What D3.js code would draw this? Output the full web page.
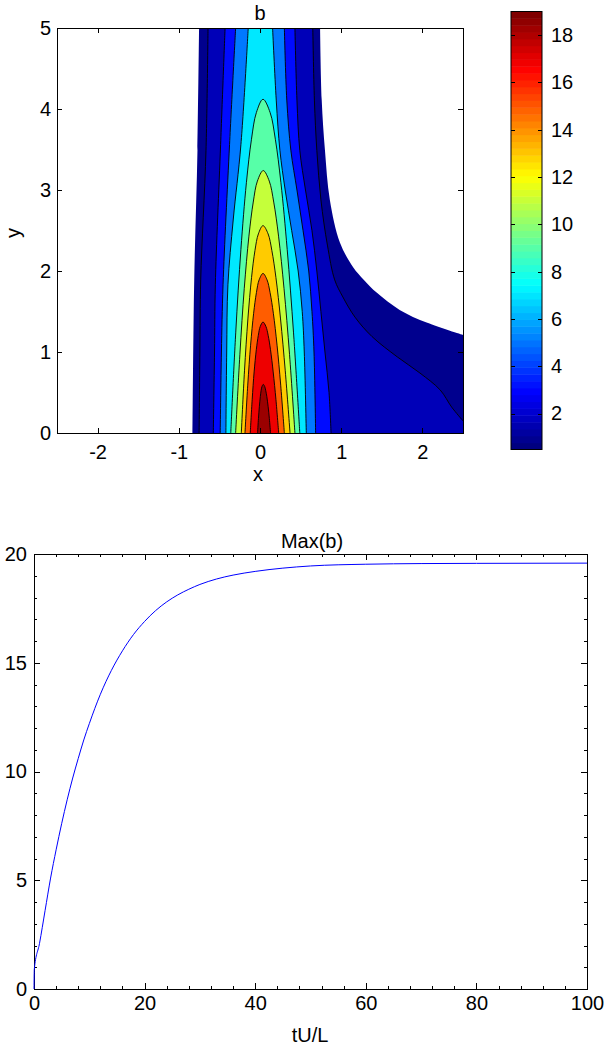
<!DOCTYPE html>
<meta charset="utf-8">
<style>
  body { margin: 0; background: #fff; }
  text { font-family: "Liberation Sans", Arial, sans-serif; font-size: 20px; fill: #000; }
  .ax path, .ax line { stroke: #000; stroke-width: 1; shape-rendering: crispEdges; }
</style>
<body>
<script src="https://cdn.jsdelivr.net/npm/d3@7"></script>
<script>
// contour levels of b
var levels = [1, 2, 4, 6, 8, 10, 12, 14, 16, 18];
var cbarMin = 0.48, cbarMax = 19;
var cbarTicks = [2, 4, 6, 8, 10, 12, 14, 16, 18];

// edge of the data region, [x, y]
var edgeLeft = [[-0.83, 0], [-0.81, 1.89], [-0.77, 3.49], [-0.75, 5]];
var edgeRight = [[0.74, 5], [0.76, 4.11], [0.80, 3.49], [0.86, 2.88], [0.985, 2.35], [1.145, 2.05],
  [1.28, 1.89], [1.44, 1.73], [1.72, 1.52], [2.06, 1.36], [2.5, 1.21]];

// open contours (levels 1-4): left part bottom->top, right part top->bottom
var open1L = [[-0.75, 0], [-0.74, 1.0], [-0.73, 1.89], [-0.665, 3.49], [-0.64, 5]];
var open1R = [[0.65, 5], [0.67, 4.11], [0.70, 3.49], [0.75, 2.88], [0.83, 2.32], [0.92, 1.89], [1.02, 1.68],
  [1.17, 1.43], [1.38, 1.19], [1.69, 0.94], [1.97, 0.74], [2.22, 0.53], [2.36, 0.32], [2.5, 0.15]];
var open2L = [[-0.575, 0], [-0.56, 1.0], [-0.55, 1.83], [-0.485, 3.56], [-0.43, 5]];
var open2R = [[0.43, 5], [0.455, 4.11], [0.49, 3.49], [0.56, 3.0], [0.64, 2.5], [0.70, 2.0], [0.75, 1.5],
  [0.80, 1.0], [0.85, 0.5], [0.875, 0]];
var open3L = [[-0.49, 0], [-0.475, 1.0], [-0.455, 1.83], [-0.375, 3.56], [-0.30, 5]];
var open3R = [[0.30, 5], [0.33, 4.11], [0.38, 3.49], [0.455, 3.0], [0.53, 2.5], [0.60, 2.0], [0.64, 1.5],
  [0.665, 1.0], [0.685, 0]];
var open4L = [[-0.42, 0], [-0.41, 1.0], [-0.395, 1.83], [-0.33, 2.63], [-0.235, 3.56], [-0.145, 5]];
var open4R = [[0.155, 5], [0.2, 4.11], [0.245, 3.49], [0.31, 3.0], [0.39, 2.5], [0.47, 2.0], [0.52, 1.5],
  [0.545, 1.0], [0.57, 0]];

// closed caps (levels 5-10), bottom-left -> apex -> bottom-right
var cap5 = [[-0.36, 0], [-0.299, 1.236], [-0.235, 2.266], [-0.1675, 3.09], [-0.105, 3.626], [-0.045, 3.955], [0.037, 4.12],
  [0.125, 3.955], [0.189, 3.626], [0.2575, 3.09], [0.335, 2.266], [0.413, 1.236], [0.49, 0]];
var cap6 = [[-0.30, 0], [-0.2475, 0.972], [-0.194, 1.782], [-0.1365, 2.43], [-0.083, 2.851], [-0.032, 3.11], [0.04, 3.24],
  [0.114, 3.11], [0.169, 2.851], [0.2285, 2.43], [0.296, 1.782], [0.3635, 0.972], [0.43, 0]];
var cap7 = [[-0.23, 0], [-0.191, 0.768], [-0.149, 1.408], [-0.104, 1.92], [-0.062, 2.253], [-0.02, 2.458], [0.037, 2.56],
  [0.10, 2.458], [0.146, 2.253], [0.196, 1.92], [0.253, 1.408], [0.311, 0.768], [0.37, 0]];
var cap8 = [[-0.185, 0], [-0.151, 0.591], [-0.116, 1.084], [-0.0785, 1.478], [-0.044, 1.734], [-0.0106, 1.891], [0.037, 1.97],
  [0.0866, 1.891], [0.124, 1.734], [0.1645, 1.478], [0.21, 1.084], [0.255, 0.591], [0.30, 0]];
var cap9 = [[-0.12, 0], [-0.0965, 0.411], [-0.0724, 0.754], [-0.0455, 1.028], [-0.0206, 1.206], [0.003, 1.315], [0.037, 1.37],
  [0.073, 1.315], [0.1006, 1.206], [0.1295, 1.028], [0.1624, 0.754], [0.1965, 0.411], [0.23, 0]];
var cap10 = [[-0.03, 0], [-0.019, 0.18], [-0.0077, 0.33], [0.004, 0.45], [0.0143, 0.528], [0.025, 0.576], [0.04, 0.6],
  [0.057, 0.576], [0.0697, 0.528], [0.084, 0.45], [0.0997, 0.33], [0.115, 0.18], [0.13, 0]];

// Max(b) against tU/L
var tUL = [0, 0.05, 1, 2, 3, 4, 5, 6, 7, 8, 9, 10, 12, 14, 16, 18, 20, 22, 24, 26, 28, 30, 33, 36, 40, 45, 50, 60, 70, 80, 100];
var maxB = [0, 0.9, 2.1, 3.6, 5.1, 6.4, 7.6, 8.7, 9.7, 10.6, 11.45, 12.2, 13.55, 14.65, 15.55, 16.3, 16.9, 17.4, 17.8,
  18.12, 18.38, 18.6, 18.85, 19.03, 19.2, 19.35, 19.45, 19.53, 19.56, 19.57, 19.58];

// jet colormap
var jetStops = [0, 0.125, 0.375, 0.625, 0.875, 1];
var jetColors = ["#000080", "#0000ff", "#00ffff", "#ffff00", "#ff0000", "#800000"];
var jet = d3.scaleLinear().domain(jetStops).range(jetColors).interpolate(d3.interpolateRgb);
var cnorm = d3.scaleLinear().domain([cbarMin, cbarMax]).range([0, 1]);
var intLabel = function (d) { return String(d); };

var W = 605, H = 1049;
var svg = d3.select("body").append("svg").attr("width", W).attr("height", H);

// ---------- top: contour plot ----------
var x = d3.scaleLinear().domain([-2.5, 2.5]).range([57, 463]);
var y = d3.scaleLinear().domain([0, 5]).range([433, 28]);

svg.append("clipPath").attr("id", "clipTop").append("rect")
  .attr("x", 57).attr("y", 28).attr("width", 406).attr("height", 405);

// each band is coloured by the middle of its value interval
var bounds = [cbarMin].concat(levels, [cbarMax]);
var bandColour = function (k) { return jet(cnorm((bounds[k] + bounds[k + 1]) / 2)); };

var line = d3.line().x(function (d) { return x(d[0]); }).y(function (d) { return y(d[1]); })
  .curve(d3.curveCatmullRom);

function join(a, b) {
  return line(a) + line(b).replace(/^M/, "L");
}
function closeBottom(pts) {
  var last = pts[pts.length - 1];
  return last[1] > 0 ? "L" + x(last[0]) + "," + y(0) : "";
}

var gc = svg.append("g").attr("clip-path", "url(#clipTop)");

gc.append("path")
  .attr("d", join(edgeLeft, edgeRight) + closeBottom(edgeRight) + "Z")
  .attr("fill", bandColour(0));

var openPairs = [[open1L, open1R], [open2L, open2R], [open3L, open3R], [open4L, open4R]];
openPairs.forEach(function (p, i) {
  gc.append("path")
    .attr("d", join(p[0], p[1]) + closeBottom(p[1]) + "Z")
    .attr("fill", bandColour(i + 1));
});
var caps = [cap5, cap6, cap7, cap8, cap9, cap10];
caps.forEach(function (c, i) {
  gc.append("path").attr("d", line(c) + "Z").attr("fill", bandColour(i + 5));
});

// contour lines
openPairs.forEach(function (p) {
  p.forEach(function (part) {
    gc.append("path").attr("d", line(part)).attr("fill", "none")
      .attr("stroke", "#000").attr("stroke-width", 0.9);
  });
});
caps.forEach(function (c) {
  gc.append("path").attr("d", line(c)).attr("fill", "none")
    .attr("stroke", "#000").attr("stroke-width", 0.9);
});

// axes
var xt = [-2, -1, 0, 1, 2], yt = [0, 1, 2, 3, 4, 5];
svg.append("g").attr("class", "ax").attr("transform", "translate(0,433)")
  .call(d3.axisBottom(x).tickValues(xt).tickSizeInner(-5).tickSizeOuter(0).tickPadding(12).tickFormat(intLabel));
svg.append("g").attr("class", "ax").attr("transform", "translate(0,28)")
  .call(d3.axisTop(x).tickValues(xt).tickSizeInner(-5).tickSizeOuter(0).tickFormat(""));
svg.append("g").attr("class", "ax").attr("transform", "translate(57,0)")
  .call(d3.axisLeft(y).tickValues(yt).tickSizeInner(-5).tickSizeOuter(0).tickPadding(6).tickFormat(intLabel));
svg.append("g").attr("class", "ax").attr("transform", "translate(463,0)")
  .call(d3.axisRight(y).tickValues(yt).tickSizeInner(-5).tickSizeOuter(0).tickFormat(""));

svg.append("text").attr("x", 260).attr("y", 20).attr("text-anchor", "middle").text("b");
svg.append("text").attr("x", 258).attr("y", 481).attr("text-anchor", "middle").text("x");
svg.append("text").attr("transform", "translate(20,233) rotate(-90)").attr("text-anchor", "middle").text("y");

// colorbar
var cy = d3.scaleLinear().domain([cbarMin, cbarMax]).range([449.5, 11.5]);
var nCol = 64, step = (cbarMax - cbarMin) / nCol;
svg.append("g").selectAll("rect").data(d3.range(nCol)).enter().append("rect")
  .attr("x", 511).attr("width", 31)
  .attr("y", function (i) { return cy(cbarMin + (i + 1) * step); })
  .attr("height", function (i) { return cy(cbarMin + i * step) - cy(cbarMin + (i + 1) * step) + 0.5; })
  .attr("fill", function (i) { return jet(i / (nCol - 1)); });
svg.append("rect").attr("x", 511).attr("y", 11.5).attr("width", 31).attr("height", 438)
  .attr("fill", "none").attr("stroke", "#000");
svg.append("g").attr("class", "ax").attr("transform", "translate(542,0)")
  .call(d3.axisRight(cy).tickValues(cbarTicks).tickSizeInner(-4).tickSizeOuter(0).tickPadding(9).tickFormat(intLabel))
  .select(".domain").remove();
svg.append("g").attr("class", "ax").attr("transform", "translate(511,0)")
  .call(d3.axisLeft(cy).tickValues(cbarTicks).tickSizeInner(-4).tickSizeOuter(0).tickFormat(""))
  .select(".domain").remove();

// ---------- bottom: Max(b) ----------
var tx = d3.scaleLinear().domain([0, 100]).range([34, 587]);
var by = d3.scaleLinear().domain([0, 20]).range([989, 554]);

var xMaj = d3.range(0, 101, 20), xMin = d3.range(0, 101, 4).filter(function (v) { return v % 20; });
var yMaj = d3.range(0, 21, 5), yMin = d3.range(0, 21, 1).filter(function (v) { return v % 5; });

svg.append("g").attr("class", "ax").attr("transform", "translate(0,989)")
  .call(d3.axisBottom(tx).tickValues(xMaj).tickSizeInner(-6).tickSizeOuter(0).tickPadding(7).tickFormat(intLabel));
svg.append("g").attr("class", "ax").attr("transform", "translate(0,989)")
  .call(d3.axisBottom(tx).tickValues(xMin).tickSizeInner(-3).tickSizeOuter(0).tickFormat(""));
svg.append("g").attr("class", "ax").attr("transform", "translate(0,554)")
  .call(d3.axisTop(tx).tickValues(xMaj).tickSizeInner(-6).tickSizeOuter(0).tickFormat(""));
svg.append("g").attr("class", "ax").attr("transform", "translate(0,554)")
  .call(d3.axisTop(tx).tickValues(xMin).tickSizeInner(-3).tickSizeOuter(0).tickFormat(""));
svg.append("g").attr("class", "ax").attr("transform", "translate(34,0)")
  .call(d3.axisLeft(by).tickValues(yMaj).tickSizeInner(-6).tickSizeOuter(0).tickPadding(7).tickFormat(intLabel));
svg.append("g").attr("class", "ax").attr("transform", "translate(34,0)")
  .call(d3.axisLeft(by).tickValues(yMin).tickSizeInner(-3).tickSizeOuter(0).tickFormat(""));
svg.append("g").attr("class", "ax").attr("transform", "translate(587,0)")
  .call(d3.axisRight(by).tickValues(yMaj).tickSizeInner(-6).tickSizeOuter(0).tickFormat(""));
svg.append("g").attr("class", "ax").attr("transform", "translate(587,0)")
  .call(d3.axisRight(by).tickValues(yMin).tickSizeInner(-3).tickSizeOuter(0).tickFormat(""));

svg.selectAll(".ax text")
  .style("font-family", "'Liberation Sans', Arial, sans-serif")
  .style("font-size", "20px").attr("fill", "#000");

svg.append("path")
  .datum(d3.zip(tUL, maxB))
  .attr("d", d3.line().x(function (d) { return tx(d[0]); }).y(function (d) { return by(d[1]); })
    .curve(d3.curveMonotoneX))
  .attr("fill", "none").attr("stroke", "#0000ff").attr("stroke-width", 1);

svg.append("text").attr("x", 312).attr("y", 548).attr("text-anchor", "middle").text("Max(b)");
svg.append("text").attr("x", 310).attr("y", 1042).attr("text-anchor", "middle").text("tU/L");
</script>
</body>
